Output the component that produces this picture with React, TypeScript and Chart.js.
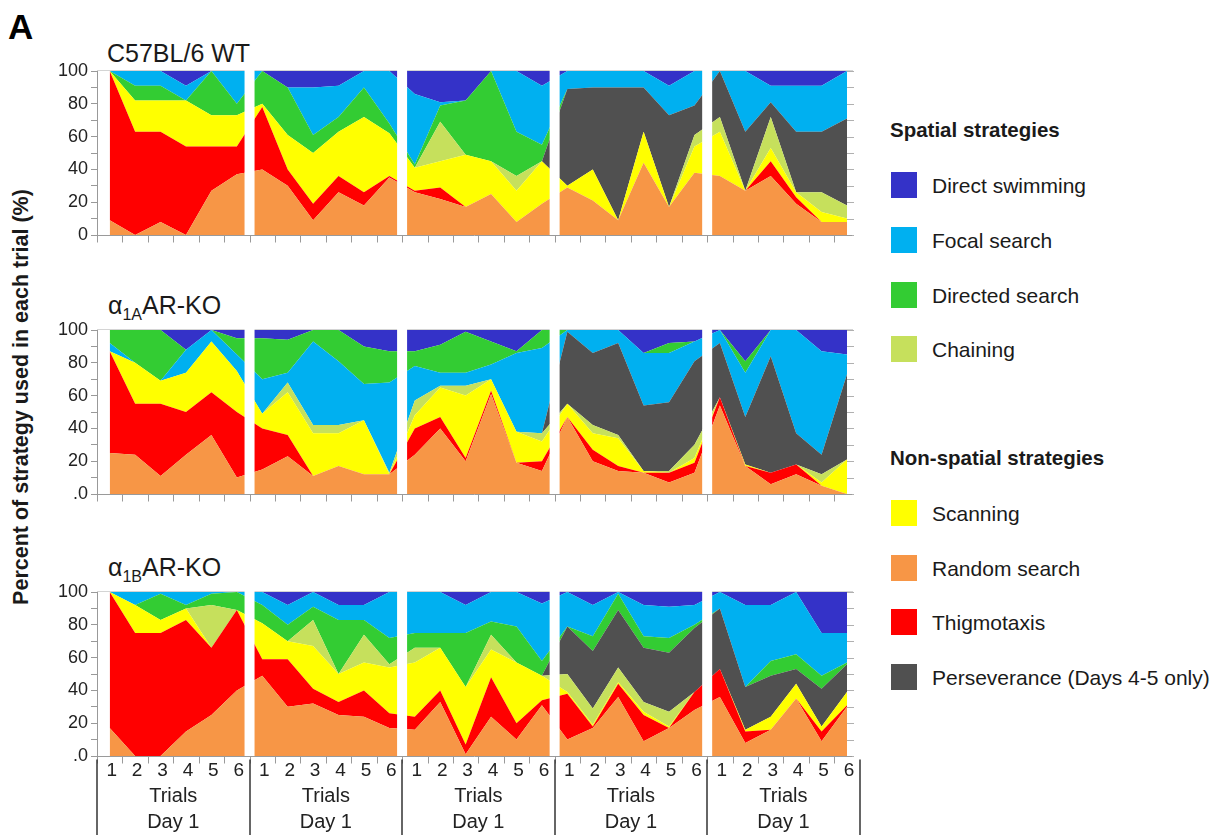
import React, { useEffect, useRef } from "react";
import { Chart, registerables } from "chart.js";

Chart.register(...registerables);

const FONT = '"Liberation Sans", Arial, Helvetica, sans-serif';

// ---- axis / category labels ----
const trialLabels = ["1", "2", "3", "4", "5", "6"];
const dayLabels = ["Day 1", "Day 1", "Day 1", "Day 1", "Day 1"];
const trialsTitle = "Trials";
const yTitle = "Percent of strategy used in each trial (%)";

// ---- strategy names and colours ----
const nameDirect = "Direct swimming";
const nameFocal = "Focal search";
const nameDirected = "Directed search";
const nameChaining = "Chaining";
const nameScanning = "Scanning";
const nameRandom = "Random search";
const nameThigmo = "Thigmotaxis";
const namePersev = "Perseverance (Days 4-5 only)";

const colDirect = "#3432c8";
const colFocal = "#00b0f0";
const colDirected = "#33cc33";
const colChaining = "#c6e05c";
const colScanning = "#ffff00";
const colRandom = "#f79646";
const colThigmo = "#ff0000";
const colPersev = "#505050";

// ---- C57BL/6 WT (30 trials: 5 days x 6 trials) ----
const wtRandom = [9, 0, 8, 0, 27, 37, 40, 30, 9, 26, 18, 35, 26, 22, 17, 25, 8, 19, 29, 21, 9, 44, 17, 38, 36, 27, 36, 19, 8, 8];
const wtThigmo = [91, 63, 55, 54, 27, 17, 38, 10, 10, 10, 8, 1, 1, 7, 0, 0, 0, 0, 0, 0, 0, 0, 0, 0, 0, 0, 9, 4, 0, 0];
const wtScanning = [0, 19, 19, 28, 19, 19, 2, 21, 31, 27, 46, 26, 14, 16, 32, 20, 19, 26, 1, 19, 0, 19, 0, 16, 27, 0, 8, 3, 6, 2];
const wtChaining = [0, 0, 0, 0, 0, 0, 0, 0, 0, 0, 0, 0, 0, 24, 0, 0, 9, 0, 0, 0, 0, 0, 0, 7, 9, 0, 19, 0, 12, 8];
const wtPersev = [0, 0, 0, 0, 0, 0, 0, 0, 0, 0, 0, 0, 0, 0, 0, 0, 0, 0, 59, 50, 81, 27, 56, 18, 28, 36, 9, 37, 37, 53];
const wtDirected = [0, 9, 9, 0, 27, 7, 20, 29, 11, 9, 18, 6, 2, 10, 33, 55, 27, 10, 0, 0, 0, 0, 0, 0, 0, 0, 0, 0, 0, 0];
const wtFocal = [0, 9, 9, 9, 0, 20, 0, 0, 29, 19, 10, 32, 43, 2, 0, 0, 37, 36, 11, 10, 10, 10, 18, 21, 0, 37, 10, 28, 28, 29];
const wtDirect = [0, 0, 0, 9, 0, 0, 0, 10, 10, 9, 0, 0, 14, 19, 18, 0, 0, 9, 0, 0, 0, 0, 9, 0, 0, 0, 9, 9, 9, 0];

// ---- alpha1A AR-KO ----
const aRandom = [25, 24, 11, 24, 36, 10, 15, 23, 11, 17, 12, 12, 24, 40, 20, 61, 19, 14, 47, 20, 14, 13, 7, 13, 54, 17, 6, 12, 5, 0];
const aThigmo = [62, 31, 44, 26, 26, 40, 25, 13, 0, 0, 0, 0, 16, 7, 2, 2, 0, 6, 0, 7, 3, 0, 6, 6, 5, 0, 7, 6, 0, 0];
const aScanning = [0, 25, 14, 24, 31, 25, 9, 26, 26, 20, 33, 0, 8, 18, 38, 7, 19, 12, 8, 10, 17, 1, 0, 3, 0, 1, 0, 0, 2, 21];
const aChaining = [0, 0, 0, 0, 0, 0, 0, 6, 5, 5, 0, 1, 9, 1, 6, 0, 0, 5, 0, 5, 2, 0, 1, 8, 0, 0, 0, 0, 5, 0];
const aPersev = [0, 0, 0, 0, 0, 0, 0, 0, 0, 0, 0, 0, 0, 0, 0, 0, 0, 0, 44, 44, 56, 40, 42, 51, 33, 29, 71, 19, 12, 52];
const aFocal = [5, 0, 0, 14, 7, 10, 21, 6, 51, 39, 22, 55, 21, 8, 8, 9, 48, 52, 1, 14, 8, 32, 30, 12, 8, 27, 16, 63, 63, 12];
const aDirected = [8, 20, 31, 0, 0, 10, 25, 20, 7, 19, 23, 19, 9, 17, 25, 14, 1, 11, 0, 0, 0, 0, 6, 0, 0, 7, 0, 0, 0, 0];
const aDirect = [0, 0, 0, 12, 0, 5, 5, 6, 0, 0, 10, 13, 13, 9, 1, 7, 13, 0, 0, 0, 0, 14, 8, 7, 0, 19, 0, 0, 13, 15];

// ---- alpha1B AR-KO ----
const bRandom = [17, 0, 0, 15, 25, 40, 49, 30, 32, 25, 24, 17, 16, 33, 1, 24, 10, 31, 10, 17, 36, 9, 17, 28, 36, 8, 16, 35, 9, 30];
const bThigmo = [83, 75, 75, 68, 41, 49, 10, 29, 9, 8, 16, 9, 8, 7, 6, 24, 10, 3, 28, 1, 8, 16, 0, 11, 17, 7, 0, 0, 6, 1];
const bScanning = [0, 17, 8, 7, 0, 0, 22, 11, 26, 17, 17, 28, 33, 26, 35, 17, 37, 15, 1, 1, 1, 2, 1, 0, 0, 1, 8, 9, 3, 8];
const bChaining = [0, 0, 0, 0, 26, 0, 0, 0, 16, 0, 17, 2, 9, 0, 0, 9, 0, 0, 11, 10, 9, 6, 9, 0, 0, 0, 0, 0, 0, 0];
const bPersev = [0, 0, 0, 0, 0, 0, 0, 0, 0, 0, 0, 0, 0, 0, 0, 0, 0, 0, 29, 35, 35, 33, 36, 39, 37, 26, 25, 9, 23, 17];
const bDirected = [0, 0, 16, 2, 7, 11, 11, 10, 8, 33, 9, 16, 9, 9, 33, 8, 22, 9, 0, 9, 10, 7, 9, 2, 0, 0, 9, 9, 8, 1];
const bFocal = [0, 8, 1, 8, 1, 0, 8, 12, 9, 9, 9, 28, 25, 25, 17, 18, 21, 35, 21, 19, 1, 19, 19, 12, 10, 50, 34, 38, 26, 18];
const bDirect = [0, 0, 0, 0, 0, 0, 0, 8, 0, 8, 8, 0, 0, 0, 8, 0, 0, 7, 0, 8, 0, 8, 9, 8, 0, 8, 8, 0, 25, 25];

type Series = { label: string; color: string; data: number[] };

const PLOT_H = 164;
const PAD_TOP = 14;
const CANVAS_W = 880;
const AXIS_W = 97;
const RIGHT_PAD = 33;

function StackRow(props: {
  y100: number;
  bottom: number;
  series: Series[];
  zeroLabel: string;
  xLabels: boolean;
}) {
  const ref = useRef<HTMLCanvasElement>(null);
  const { y100, bottom, series, zeroLabel, xLabels } = props;
  const height = PAD_TOP + PLOT_H + bottom;

  useEffect(() => {
    const canvas = ref.current;
    if (!canvas) return;
    const overlay = {
      id: "overlay",
      beforeDatasetsDraw(chart: any) {
        const { ctx, chartArea: a, scales } = chart;
        const xs = scales.x;
        ctx.save();
        ctx.strokeStyle = "#d4d4d4";
        ctx.lineWidth = 1;
        ctx.beginPath();
        ctx.moveTo(a.left, Math.round(a.top) - 0.5);
        ctx.lineTo(xs.getPixelForValue(29) + 6, Math.round(a.top) - 0.5);
        ctx.stroke();
        ctx.restore();
      },
      afterDatasetsDraw(chart: any) {
        const { ctx, chartArea: a, scales } = chart;
        const xs = scales.x;
        const ys = scales.y;
        ctx.save();
        // white separators between days
        ctx.fillStyle = "#ffffff";
        for (let d = 1; d < 5; d++) {
          const cx = xs.getPixelForValue(d * 6 - 0.5);
          ctx.fillRect(cx - 5, a.top - 3, 10, a.bottom - a.top + 3);
        }
        // right side minor ticks
        const rx = xs.getPixelForValue(29);
        ctx.strokeStyle = "#b0b0b0";
        ctx.lineWidth = 1;
        for (let v = 0; v <= 100; v += 10) {
          const y = Math.round(ys.getPixelForValue(v)) + 0.5;
          ctx.beginPath();
          ctx.moveTo(rx, y);
          ctx.lineTo(rx + 7, y);
          ctx.stroke();
        }
        // x axis line and tick marks
        const by = Math.round(a.bottom) + 0.5;
        ctx.strokeStyle = "#9a9a9a";
        ctx.beginPath();
        ctx.moveTo(a.left, by);
        ctx.lineTo(rx + 5, by);
        ctx.stroke();
        for (let i = 0; i <= 29; i++) {
          const x = Math.round(xs.getPixelForValue(i - 0.5)) + 0.5;
          ctx.beginPath();
          ctx.moveTo(x, by);
          ctx.lineTo(x, by + 7);
          ctx.stroke();
        }
        if (xLabels) {
          ctx.fillStyle = "#222";
          ctx.textAlign = "center";
          ctx.textBaseline = "middle";
          ctx.font = `19px ${FONT}`;
          for (let i = 0; i < 30; i++) {
            ctx.fillText(trialLabels[i % 6], xs.getPixelForValue(i) + 2, by + 14);
          }
          ctx.strokeStyle = "#333";
          ctx.lineWidth = 1.5;
          for (let d = 0; d <= 5; d++) {
            const x = Math.round(xs.getPixelForValue(d * 6 - 0.5));
            ctx.beginPath();
            ctx.moveTo(x, by + 3);
            ctx.lineTo(x, chart.height);
            ctx.stroke();
          }
          ctx.font = `20px ${FONT}`;
          for (let d = 0; d < 5; d++) {
            const cx = (xs.getPixelForValue(d * 6 - 0.5) + xs.getPixelForValue(d * 6 + 5.5)) / 2;
            ctx.fillText(trialsTitle, cx, by + 40);
            ctx.fillText(dayLabels[d], cx, by + 66);
          }
        }
        ctx.restore();
      },
    };

    const chart = new Chart(canvas, {
      type: "line",
      data: {
        datasets: series.map((s, k) => ({
          label: s.label,
          data: s.data.map((v, i) => ({ x: i, y: v })),
          backgroundColor: s.color,
          borderColor: s.color,
          borderWidth: 0,
          pointRadius: 0,
          fill: k === 0 ? "origin" : "-1",
          tension: 0,
          stack: "all",
        })),
      },
      options: {
        animation: false,
        responsive: false,
        maintainAspectRatio: false,
        devicePixelRatio: 1,
        layout: { padding: { left: 0, top: PAD_TOP, right: RIGHT_PAD, bottom } },
        plugins: { legend: { display: false }, tooltip: { enabled: false } },
        scales: {
          x: { type: "linear", min: -0.5, max: 29, display: false, stacked: true },
          y: {
            stacked: true,
            min: 0,
            max: 100,
            afterFit(s: any) {
              s.width = AXIS_W;
            },
            ticks: {
              stepSize: 10,
              autoSkip: false,
              color: "#222",
              padding: 3,
              font: { family: FONT, size: 18 },
              callback: (v: any) => (v % 20 === 0 ? (v === 0 ? zeroLabel : String(v)) : ""),
            },
            grid: { drawOnChartArea: false, drawTicks: true, tickLength: 6, color: "#999" },
            border: { display: true, color: "#999" },
          },
        },
      } as any,
      plugins: [overlay],
    });
    return () => chart.destroy();
  }, []);

  return (
    <canvas
      ref={ref}
      width={CANVAS_W}
      height={height}
      style={{ position: "absolute", left: 0, top: y100 - PAD_TOP, width: CANVAS_W, height }}
    />
  );
}

const wtSeries: Series[] = [
  { label: nameRandom, color: colRandom, data: wtRandom },
  { label: nameThigmo, color: colThigmo, data: wtThigmo },
  { label: nameScanning, color: colScanning, data: wtScanning },
  { label: nameChaining, color: colChaining, data: wtChaining },
  { label: namePersev, color: colPersev, data: wtPersev },
  { label: nameDirected, color: colDirected, data: wtDirected },
  { label: nameFocal, color: colFocal, data: wtFocal },
  { label: nameDirect, color: colDirect, data: wtDirect },
];
const aSeries: Series[] = [
  { label: nameRandom, color: colRandom, data: aRandom },
  { label: nameThigmo, color: colThigmo, data: aThigmo },
  { label: nameScanning, color: colScanning, data: aScanning },
  { label: nameChaining, color: colChaining, data: aChaining },
  { label: namePersev, color: colPersev, data: aPersev },
  { label: nameFocal, color: colFocal, data: aFocal },
  { label: nameDirected, color: colDirected, data: aDirected },
  { label: nameDirect, color: colDirect, data: aDirect },
];
const bSeries: Series[] = [
  { label: nameRandom, color: colRandom, data: bRandom },
  { label: nameThigmo, color: colThigmo, data: bThigmo },
  { label: nameScanning, color: colScanning, data: bScanning },
  { label: nameChaining, color: colChaining, data: bChaining },
  { label: namePersev, color: colPersev, data: bPersev },
  { label: nameDirected, color: colDirected, data: bDirected },
  { label: nameFocal, color: colFocal, data: bFocal },
  { label: nameDirect, color: colDirect, data: bDirect },
];

const spatialItems = [
  { label: nameDirect, color: colDirect },
  { label: nameFocal, color: colFocal },
  { label: nameDirected, color: colDirected },
  { label: nameChaining, color: colChaining },
];
const nonSpatialItems = [
  { label: nameScanning, color: colScanning },
  { label: nameRandom, color: colRandom },
  { label: nameThigmo, color: colThigmo },
  { label: namePersev, color: colPersev },
];

const txt: React.CSSProperties = {
  position: "absolute",
  fontFamily: FONT,
  color: "#1a1a1a",
  whiteSpace: "nowrap",
  lineHeight: 1,
};

function LegendItem({ label, color, cy }: { label: string; color: string; cy: number }) {
  return (
    <>
      <div style={{ position: "absolute", left: 891, top: cy - 13, width: 26, height: 26, background: color }} />
      <div style={{ ...txt, left: 932, top: cy - 10, fontSize: 21 }}>{label}</div>
    </>
  );
}

export default function App() {
  const spatialY = [185, 240, 295, 349];
  const nonSpatialY = [513, 568, 622, 677];
  return (
    <div style={{ position: "fixed", left: 0, top: 0, width: 1220, height: 835, background: "#fff", overflow: "hidden" }}>
      <div style={{ ...txt, left: 8, top: 9, fontSize: 35, fontWeight: "bold", color: "#000" }}>A</div>

      <div style={{ ...txt, left: 107, top: 41, fontSize: 25 }}>C57BL/6 WT</div>
      <div style={{ ...txt, left: 108, top: 293, fontSize: 25 }}>
        α<span style={{ fontSize: 16, position: "relative", top: 6 }}>1A</span>AR-KO
      </div>
      <div style={{ ...txt, left: 108, top: 555, fontSize: 25 }}>
        α<span style={{ fontSize: 16, position: "relative", top: 6 }}>1B</span>AR-KO
      </div>

      <div
        style={{
          ...txt,
          left: 22,
          top: 397,
          fontSize: 21.5,
          fontWeight: "bold",
          transform: "translate(-50%, -50%) rotate(-90deg)",
        }}
      >
        {yTitle}
      </div>

      <StackRow y100={71} bottom={16} series={wtSeries} zeroLabel="0" xLabels={false} />
      <StackRow y100={330} bottom={16} series={aSeries} zeroLabel=".0" xLabels={false} />
      <StackRow y100={592} bottom={835 - 592 - PLOT_H} series={bSeries} zeroLabel=".0" xLabels={true} />

      <div style={{ ...txt, left: 890, top: 120, fontSize: 20.5, fontWeight: "bold" }}>Spatial strategies</div>
      {spatialItems.map((it, i) => (
        <LegendItem key={it.label} label={it.label} color={it.color} cy={spatialY[i]} />
      ))}
      <div style={{ ...txt, left: 890, top: 448, fontSize: 20.5, fontWeight: "bold" }}>Non-spatial strategies</div>
      {nonSpatialItems.map((it, i) => (
        <LegendItem key={it.label} label={it.label} color={it.color} cy={nonSpatialY[i]} />
      ))}
    </div>
  );
}
